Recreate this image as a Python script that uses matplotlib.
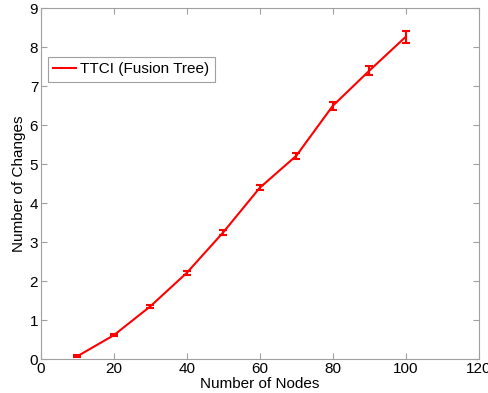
import matplotlib
matplotlib.use("Agg")
import matplotlib.pyplot as plt

nodes = [10, 20, 30, 40, 50, 60, 70, 80, 90, 100]
changes = [0.08, 0.62, 1.36, 2.22, 3.26, 4.40, 5.22, 6.50, 7.40, 8.27]
errors = [0.02, 0.03, 0.04, 0.05, 0.06, 0.07, 0.08, 0.10, 0.11, 0.15]
xticks = [0, 20, 40, 60, 80, 100, 120]
yticks = [0, 1, 2, 3, 4, 5, 6, 7, 8, 9]

plt.rcParams['font.family'] = ['Liberation Sans', 'DejaVu Sans']
fig = plt.figure(figsize=(4.89, 3.93), dpi=100)
ax = fig.add_axes([41/489, 1 - 359.3/393, (478.7-41)/489, (359.3-8.3)/393])
ax.errorbar(nodes, changes, yerr=errors, color='red', lw=1.5, capsize=3,
            elinewidth=1.5, capthick=1.5, fmt='none')
ax.plot(nodes, changes, color='red', lw=1.5, label='TTCI (Fusion Tree)')
ax.set_xlim(0, 120)
ax.set_ylim(0, 9)
ax.set_xticks(xticks)
ax.set_yticks(yticks)
for s in ax.spines.values():
    s.set_color('#a0a0a0')
    s.set_linewidth(0.8)
ax.tick_params(direction='in', top=True, right=True, color='#a0a0a0',
               labelsize=11, length=4, pad=2)
ax.set_xlabel('Number of Nodes', fontsize=11, labelpad=1)
ax.set_ylabel('Number of Changes', fontsize=11, labelpad=3)
leg = ax.legend(loc='upper left', bbox_to_anchor=(0.016, 0.861), fontsize=11,
                fancybox=False, edgecolor='#a0a0a0', framealpha=1,
                handlelength=1.5, borderpad=0.35, handletextpad=0.25,
                borderaxespad=0)
leg.get_frame().set_linewidth(0.8)
fig.savefig('out.png', dpi=100)
